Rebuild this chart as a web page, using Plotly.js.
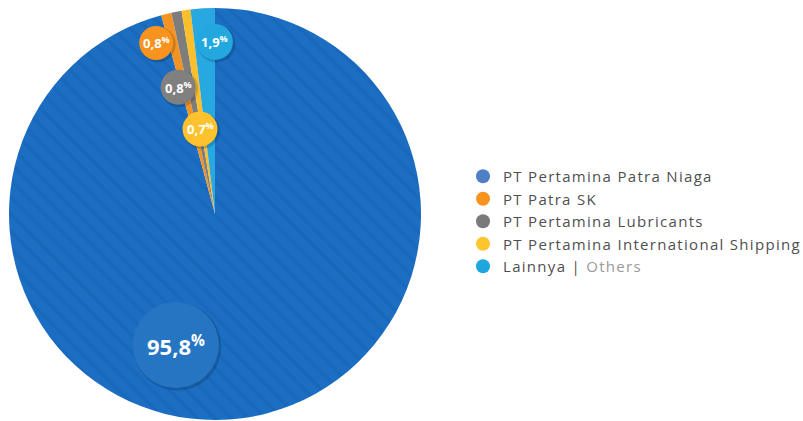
<!DOCTYPE html>
<html>
<head>
<meta charset="utf-8">
<script src="https://cdn.plot.ly/plotly-3.0.1.min.js"></script>
<style>html,body{margin:0;padding:0;background:#fff;}#chart{width:803px;height:421px;}
.legendtext{letter-spacing:1.3px;}</style>
</head>
<body>
<div id="chart"></div>
<script>
// ---- data ----
const companies = ['PT Pertamina Patra Niaga', 'PT Patra SK', 'PT Pertamina Lubricants', 'PT Pertamina International Shipping', 'Lainnya'];
const legendLabels = ['PT Pertamina Patra Niaga', 'PT Patra SK', 'PT Pertamina Lubricants', 'PT Pertamina International Shipping', 'Lainnya | <span style="color:#9a9a9a">Others</span>'];
const shares = [95.8, 0.8, 0.8, 0.7, 1.9];

// ---- styles ----
const sliceColors = ['#1c6ec2', '#f39322', '#7d7d7d', '#fbbf2c', '#27a8e0'];
const bubbleColors = ['#2675c3', '#f7931e', '#808080', '#fdc22e', '#22a7df'];
const legendColors = ['#4f80c6', '#f7931e', '#7a7a7a', '#fdc62f', '#1fa6de'];
const bubbleSizes = [86, 34, 35, 35, 36];
const bubbleFont = [22, 13, 13, 13, 13];
const labelAngleShift = [24.2, -5.3, -5.4, -1.9, 3.4];   // degrees, relative to slice middle
const labelRadius = [0.664, 0.878, 0.641, 0.419, 0.835];  // fraction of pie radius

const xDom = [9 / 803, 421 / 803];
const yDom = [1 / 421, 413 / 421];

const total = shares.reduce((a, b) => a + b, 0);
let cum = 0;
const bx = [], by = [], btxt = [];
shares.forEach((v, i) => {
  const mid = (cum + v / 2) / total * 360;
  cum += v;
  const a = (mid + labelAngleShift[i]) * Math.PI / 180;
  bx.push(labelRadius[i] * Math.sin(a));
  by.push(labelRadius[i] * Math.cos(a));
  btxt.push('<b>' + v.toFixed(1).replace('.', ',') + '<sup>%</sup></b>');
});

const traces = [];
traces.push({
  type: 'pie',
  values: shares,
  labels: companies,
  sort: false,
  direction: 'clockwise',
  rotation: 0,
  textinfo: 'none',
  hoverinfo: 'none',
  showlegend: false,
  domain: {x: xDom, y: yDom},
  marker: {
    colors: sliceColors,
    line: {width: 0},
    pattern: {shape: ['\\', '', '', '', ''], bgcolor: sliceColors, fgcolor: '#0f5cb0', fgopacity: 0.35, size: 12, solidity: 0.3}
  }
});
// legend entries
companies.forEach((c, i) => {
  traces.push({
    type: 'scatter', mode: 'markers', xaxis: 'x', yaxis: 'y',
    x: [null], y: [null], name: legendLabels[i],
    marker: {size: 14, color: legendColors[i]},
    showlegend: true, hoverinfo: 'skip'
  });
});

// value bubbles: circles (shapes, above the pie) + text (annotations)
const shapes = [], annotations = [];
bx.forEach((x, i) => {
  const r = bubbleSizes[i] / 2;
  shapes.push({
    type: 'circle', layer: 'above', xref: 'x', yref: 'y',
    xsizemode: 'pixel', ysizemode: 'pixel', xanchor: x, yanchor: by[i],
    x0: -r + 0.5, x1: r + 2.5, y0: -r - 2.5, y1: r - 0.5,
    fillcolor: 'rgba(0,0,0,0.16)', line: {width: 0}
  });
  shapes.push({
    type: 'circle', layer: 'above', xref: 'x', yref: 'y',
    xsizemode: 'pixel', ysizemode: 'pixel', xanchor: x, yanchor: by[i],
    x0: -r, x1: r, y0: -r, y1: r,
    fillcolor: bubbleColors[i], line: {width: 0}
  });
  annotations.push({
    xref: 'x', yref: 'y', x: x, y: by[i], text: btxt[i], showarrow: false,
    xanchor: 'center', yanchor: 'middle',
    font: {family: 'Open Sans, sans-serif', size: bubbleFont[i], color: '#ffffff'}
  });
});

const layout = {
  width: 803, height: 421,
  margin: {l: 0, r: 0, t: 0, b: 0, autoexpand: false},
  paper_bgcolor: '#ffffff', plot_bgcolor: 'rgba(0,0,0,0)',
  xaxis: {domain: xDom, range: [-1, 1], visible: false, fixedrange: true},
  yaxis: {domain: yDom, range: [-1, 1], visible: false, fixedrange: true},
  shapes: shapes,
  annotations: annotations,
  showlegend: true,
  legend: {
    x: 463 / 803, xanchor: 'left', y: 1 - 221.5 / 421, yanchor: 'middle',
    font: {family: 'Open Sans, sans-serif', size: 15, color: '#4f4f4f'},
    bgcolor: 'rgba(0,0,0,0)', itemwidth: 30, tracegroupgap: 0
  }
};

Plotly.newPlot('chart', traces, layout, {displayModeBar: false, staticPlot: true});
</script>
</body>
</html>
